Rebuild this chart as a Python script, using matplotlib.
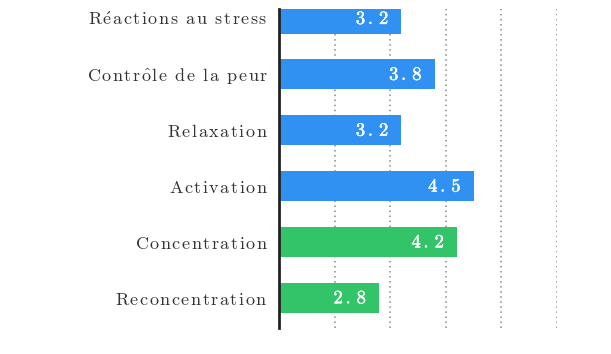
import matplotlib
matplotlib.use("Agg")
import matplotlib.pyplot as plt
import matplotlib.patheffects as pe

# data (top to bottom)
categories = ["Réactions au stress", "Contrôle de la peur", "Relaxation",
              "Activation", "Concentration", "Reconcentration"]
values = [3.2, 3.8, 3.2, 4.5, 4.2, 2.8]
groups = ["b", "b", "b", "b", "g", "g"]
group_colors = {"b": "#3091f2", "g": "#33c368"}

plt.rcParams["mathtext.fontset"] = "cm"

ACCENTS = {"é": r"\acute{e}", "ô": r"\hat{o}", " ": r"\ "}


def spaced(text, gap, style="mathrm"):
    # letter-spaced Computer Modern text via mathtext
    parts = [ACCENTS.get(ch, ch) for ch in text]
    body = (r"\hspace{%g}" % gap).join(parts)
    return "$\\%s{%s}$" % (style, body)


fig = plt.figure(figsize=(6.11, 3.54), dpi=100)
ax = fig.add_axes([0.4566, 0.0734, 0.4550, 0.9012])

ypos = list(range(len(categories)))
colors = [group_colors[g] for g in groups]
ax.barh(ypos, values, left=0, height=0.54, color=colors, zorder=2)

ax.set_xlim(1, 6)
ax.set_ylim(5.54, -0.17)
ax.set_xticks([2, 3, 4, 5, 6])
ax.set_xticklabels([])
ax.tick_params(axis="x", length=0)
ax.tick_params(axis="y", length=0, pad=8)
ax.set_yticks(ypos)
ax.set_yticklabels([spaced(c, 0.1) for c in categories],
                   fontsize=13, color="#333333")
ax.grid(axis="x", linestyle=(0, (1, 2.3)), color="#888888", linewidth=1.1, zorder=0)
ax.set_axisbelow(True)

for s in ["top", "right", "bottom"]:
    ax.spines[s].set_visible(False)
ax.spines["left"].set_linewidth(2)
ax.spines["left"].set_color("#222222")
ax.spines["left"].set_zorder(3)

for y, v in zip(ypos, values):
    ax.annotate(spaced("%.1f" % v, 0.16, "mathbf"), xy=(v, y), xytext=(-12, 0),
                textcoords="offset pixels", ha="right", va="center",
                color="white", fontsize=13.5, zorder=4,
                path_effects=[pe.withStroke(linewidth=0.3, foreground="white")])

fig.savefig("out.png", dpi=100)
